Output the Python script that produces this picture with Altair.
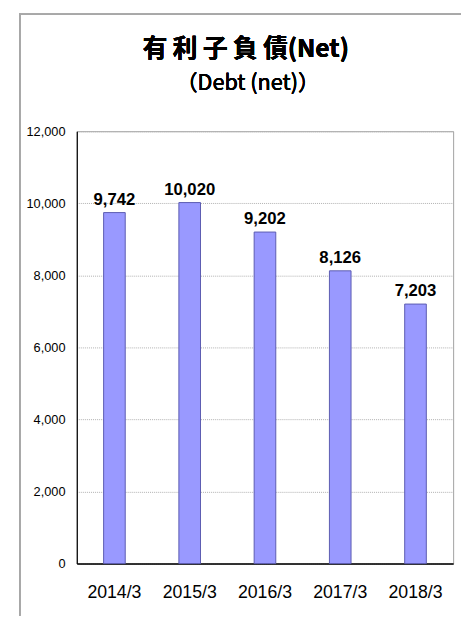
import altair as alt
import pandas as pd

years = ["2014/3", "2015/3", "2016/3", "2017/3", "2018/3"]
values = [9742, 10020, 9202, 8126, 7203]
y_ticks = [0, 2000, 4000, 6000, 8000, 10000, 12000]
title_main = "有 利 子 負 債(Net)"
title_sub = "（Debt (net)）"

df = pd.DataFrame({"year": years, "value": values})

W, H = 383, 440
PAD_L, PAD_T, PAD_R, PAD_B = 70, 120, 8, 53

x_enc = alt.X("year:N", sort=years,
              scale=alt.Scale(paddingInner=0, paddingOuter=0),
              axis=alt.Axis(title=None, labelAngle=0, ticks=False,
                            labelFont="Liberation Sans", labelFontSize=18,
                            labelColor="#000000", labelPadding=21,
                            domainColor="#000000", domainWidth=1.5))
y_enc = alt.Y("value:Q",
              scale=alt.Scale(domain=[0, 12000], nice=False),
              axis=alt.Axis(title=None, values=y_ticks, format=",d",
                            ticks=False, labelPadding=12,
                            labelFont="Liberation Sans", labelFontSize=13,
                            labelColor="#000000",
                            domainColor="#000000", domainWidth=1.2,
                            grid=True, gridColor="#b0b0b0",
                            gridDash=[1, 1], gridWidth=1))

base = alt.Chart(df)

bars = base.mark_bar(size=22, color="#9999FF", stroke="#5b5bb0",
                     strokeWidth=1).encode(x=x_enc, y=y_enc)

labels = base.mark_text(dy=-13, font="Liberation Sans", fontSize=17,
                        fontWeight="bold", color="#000000").encode(
    x=alt.X("year:N", sort=years), y="value:Q",
    text=alt.Text("value:Q", format=",d"))

title1 = base.mark_text(font="Noto Sans CJK JP", fontSize=25,
                        fontWeight="bold", color="#000000",
                        baseline="middle", align="center").encode(
    x=alt.value(172), y=alt.value(-84), text=alt.value(title_main))
title2 = base.mark_text(font="Noto Sans CJK JP", fontSize=22,
                        color="#000000",
                        baseline="middle", align="center").encode(
    x=alt.value(174), y=alt.value(-49), text=alt.value(title_sub))

frame_left = base.mark_rule(color="#a8a8a8", strokeWidth=1.5).encode(
    x=alt.value(-58), y=alt.value(-120), y2=alt.value(H + PAD_B))
frame_top = base.mark_rule(color="#a8a8a8", strokeWidth=1.5).encode(
    x=alt.value(-58), x2=alt.value(W + PAD_R), y=alt.value(-119))

chart = alt.layer(frame_left, frame_top, bars, labels, title1, title2).properties(
    width=W, height=H,
    autosize=alt.AutoSizeParams(type="none"),
    padding={"left": PAD_L, "top": PAD_T, "right": PAD_R, "bottom": PAD_B},
).configure_view(stroke="#a0a0a0", strokeWidth=1)

chart.save("out.html", embed_options={"renderer": "svg", "actions": False})
